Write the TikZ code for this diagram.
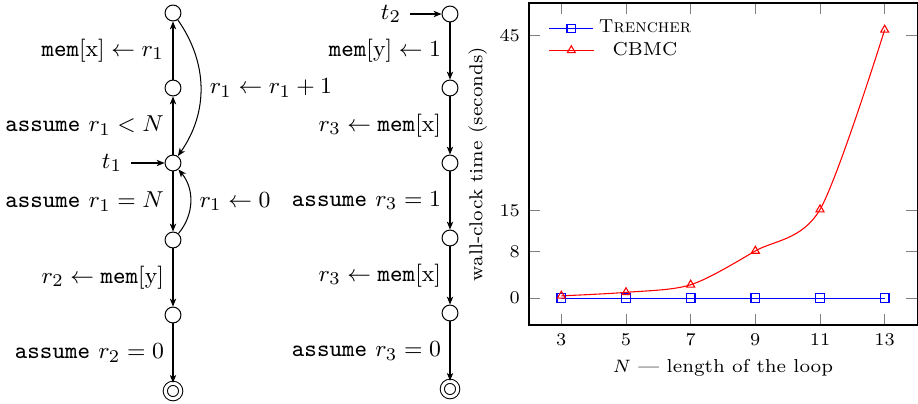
\documentclass[tikz,border=0pt]{standalone}
\usepackage{pgfplots}
\pgfplotsset{compat=1.18}
\usetikzlibrary{arrows.meta}
\newcommand\pltfnt{\fontsize{7.3}{8.8}\selectfont}
\newcommand\autfnt{\fontsize{9.3}{11}\selectfont}
\begin{document}
\begin{tikzpicture}[
  >={Stealth[length=3.1pt,width=2.5pt,inset=0.9pt]},
  st/.style={circle,draw,minimum size=6.2pt,inner sep=0pt},
  fin/.style={circle,draw,double,double distance=1.2pt,minimum size=6pt,inner sep=0pt},
]
\useasboundingbox (0,0) rectangle (358.02pt,-157.56pt);
\begin{scope}[x=0.39pt,y=0.39pt,every node/.append style={font=\autfnt}]
% left automaton
\node[st] (a1) at (173,-13) {};
\node[st] (a2) at (173,-88) {};
\node[st] (a3) at (173,-163) {};
\node[st] (a4) at (173,-240) {};
\node[st] (a5) at (173,-315) {};
\node[fin] (a6) at (173,-391) {};
\node (t1) at (112,-163) {$t_1$};
\draw[->] (t1) -- (a3);
\draw[->] (a2) -- node[left] {$\texttt{mem}[\mathrm{x}]\leftarrow r_1$} (a1);
\draw[->] (a3) -- node[left] {\texttt{assume} $r_1<N$} (a2);
\draw[->] (a1) to[bend left=35] node[right] {$r_1\leftarrow r_1+1$} (a3);
\draw[->] (a3) -- node[left] {\texttt{assume} $r_1=N$} (a4);
\draw[->] (a4) to[bend right=40] node[right] {$r_1\leftarrow 0$} (a3);
\draw[->] (a4) -- node[left] {$r_2\leftarrow\texttt{mem}[\mathrm{y}]$} (a5);
\draw[->] (a5) -- node[left] {\texttt{assume} $r_2=0$} (a6);
% right automaton
\node[st] (b1) at (450,-14) {};
\node[st] (b2) at (450,-88) {};
\node[st] (b3) at (450,-163) {};
\node[st] (b4) at (450,-238) {};
\node[st] (b5) at (450,-313) {};
\node[fin] (b6) at (450,-389) {};
\node (t2) at (391,-14) {$t_2$};
\draw[->] (t2) -- (b1);
\draw[->] (b1) -- node[left] {$\texttt{mem}[\mathrm{y}]\leftarrow 1$} (b2);
\draw[->] (b2) -- node[left] {$r_3\leftarrow\texttt{mem}[\mathrm{x}]$} (b3);
\draw[->] (b3) -- node[left] {\texttt{assume} $r_3=1$} (b4);
\draw[->] (b4) -- node[left] {$r_3\leftarrow\texttt{mem}[\mathrm{x}]$} (b5);
\draw[->] (b5) -- node[left] {\texttt{assume} $r_3=0$} (b6);
\end{scope}
\begin{axis}[
  at={(206.31pt,-126.75pt)}, anchor=south west,
  scale only axis, width=151.32pt, height=125.58pt,
  xmin=2, xmax=14, ymin=-4.6, ymax=50.6,
  xtick={3,5,7,9,11,13}, ytick={0,8,15,45},
  tick label style={font=\pltfnt},
  label style={font=\pltfnt},
  ylabel style={yshift=-2pt},
  xlabel style={yshift=1.5pt},
  xlabel={$N$ --- length of the loop},
  ylabel={wall-clock time (seconds)},
  legend style={draw=none, fill=none, font=\pltfnt, at={(0.03,0.98)}, anchor=north west, row sep=-2pt},
  legend cell align=center,
]
\addplot[color=blue, line width=0.45pt, mark=square, mark size=1.7pt, mark options={draw=blue}] coordinates {(3,0)(5,0)(7,0)(9,0)(11,0)(13,0)};
\addlegendentry{\textsc{Trencher}}
\addplot[color=red, line width=0.42pt, smooth, mark=triangle, mark size=1.8pt, mark options={draw=red}] coordinates {(3,0.4)(5,1.0)(7,2.3)(9,8.1)(11,15.2)(13,46)};
\addlegendentry{CBMC}
\end{axis}
\end{tikzpicture}
\end{document}
